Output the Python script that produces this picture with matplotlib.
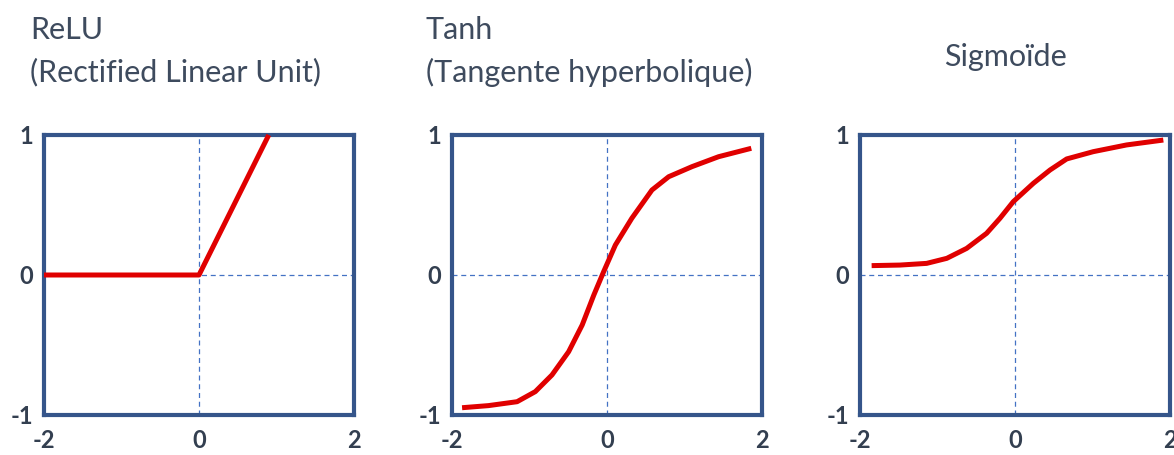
import matplotlib.pyplot as plt

# activation curves
relu_x = [-2.0, 0.0, 0.9]
relu_y = [0.0, 0.0, 1.0]

tanh_x = [-1.87, -1.53, -1.16, -0.925, -0.71, -0.495, -0.32, -0.17, -0.043,
          0.108, 0.32, 0.58, 0.796, 1.097, 1.44, 1.862]
tanh_y = [-0.948, -0.933, -0.905, -0.833, -0.714, -0.548, -0.357, -0.143, 0.024,
          0.214, 0.405, 0.607, 0.702, 0.774, 0.845, 0.905]

sig_x = [-1.85, -1.484, -1.14, -0.88, -0.624, -0.366, -0.194, -0.022, 0.237,
         0.452, 0.667, 1.01, 1.44, 1.914]
sig_y = [0.067, 0.071, 0.083, 0.119, 0.19, 0.298, 0.405, 0.524, 0.655,
         0.75, 0.829, 0.881, 0.929, 0.964]

x_ticks = [-2, 0, 2]
y_ticks = [-1, 0, 1]

box_color = '#35558A'
red = '#E00000'
guide = '#4472C4'
text_color = '#333F50'
title_color = '#3E4B5E'

plt.rcParams['font.family'] = ['Lato', 'DejaVu Sans']

fig = plt.figure(figsize=(11.74, 4.55), dpi=100)

lefts = [44, 452, 860]
curves = [(relu_x, relu_y), (tanh_x, tanh_y), (sig_x, sig_y)]

for left, (xs, ys) in zip(lefts, curves):
    ax = fig.add_axes([left / 1174, 40 / 455, 310 / 1174, 280 / 455])
    ax.set_xlim(-2, 2)
    ax.set_ylim(-1, 1)
    ax.axvline(0, color=guide, lw=0.9, ls=(0, (4, 3)), zorder=1)
    ax.axhline(0, color=guide, lw=0.9, ls=(0, (4, 3)), zorder=1)
    ax.plot(xs, ys, color=red, lw=3.6, solid_capstyle='butt', solid_joinstyle='round', zorder=3, clip_on=False)
    for s in ax.spines.values():
        s.set_color(box_color)
        s.set_linewidth(3.0)
    ax.set_xticks(x_ticks)
    ax.set_yticks(y_ticks)
    ax.set_xticklabels([str(t) for t in x_ticks])
    ax.set_yticklabels([str(t) for t in y_ticks])
    ax.tick_params(length=0, labelsize=17, labelcolor=text_color, pad=8)
    ax.tick_params(axis='x', pad=10)
    for lab in ax.get_xticklabels() + ax.get_yticklabels():
        lab.set_fontweight('bold')

fs = 22
fig.text(30 / 1174, 1 - 30 / 455, 'ReLU', fontsize=fs, color=title_color, va='center', ha='left')
fig.text(30 / 1174, 1 - 72 / 455, '(Rectified Linear Unit)', fontsize=fs, color=title_color, va='center', ha='left')
fig.text(426 / 1174, 1 - 30 / 455, 'Tanh', fontsize=fs, color=title_color, va='center', ha='left')
fig.text(426 / 1174, 1 - 72 / 455, '(Tangente hyperbolique)', fontsize=fs, color=title_color, va='center', ha='left')
fig.text(1005 / 1174, 1 - 57 / 455, 'Sigmoïde', fontsize=fs, color=title_color, va='center', ha='center')

fig.savefig('out.png', dpi=100)
